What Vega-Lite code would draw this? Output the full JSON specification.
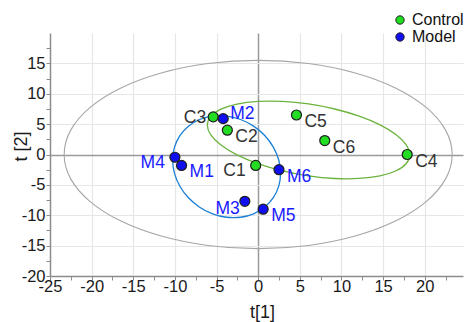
{
  "$schema": "https://vega.github.io/schema/vega-lite/v6.json",
  "width": 413,
  "height": 243,
  "autosize": {"type": "none"},
  "padding": {"left": 50, "top": 33, "right": 5, "bottom": 46},
  "background": "white",
  "config": {
    "view": {"stroke": null},
    "font": "Liberation Sans",
    "axis": {
      "domainColor": "#8c8c8c",
      "domainWidth": 1.5,
      "tickColor": "#8c8c8c",
      "tickSize": 4,
      "labelFlush": false,
      "labelFont": "Liberation Sans",
      "labelFontSize": 16.5,
      "labelColor": "#1a1a1a",
      "titleFont": "Liberation Sans",
      "titleFontSize": 18,
      "titleFontWeight": "normal",
      "titleColor": "#1a1a1a",
      "grid": true
    }
  },
  "datasets": {
    "scores": [
      {"label": "C1", "group": "Control", "x": -0.3, "y": -1.8},
      {"label": "C2", "group": "Control", "x": -3.7, "y": 4.0},
      {"label": "C3", "group": "Control", "x": -5.4, "y": 6.2},
      {"label": "C4", "group": "Control", "x": 17.9, "y": 0.0},
      {"label": "C5", "group": "Control", "x": 4.6, "y": 6.5},
      {"label": "C6", "group": "Control", "x": 8.0, "y": 2.3},
      {"label": "M1", "group": "Model", "x": -9.2, "y": -1.8},
      {"label": "M2", "group": "Model", "x": -4.2, "y": 5.9},
      {"label": "M3", "group": "Model", "x": -1.6, "y": -7.7},
      {"label": "M4", "group": "Model", "x": -10.0, "y": -0.45},
      {"label": "M5", "group": "Model", "x": 0.6, "y": -9.0},
      {"label": "M6", "group": "Model", "x": 2.5, "y": -2.5}
    ],
    "ellipses": [
      {"e": "T2", "i": 0, "x": 23.3, "y": 0},
      {"e": "T2", "i": 1, "x": 22.51, "y": 4.01},
      {"e": "T2", "i": 2, "x": 20.18, "y": 7.75},
      {"e": "T2", "i": 3, "x": 16.48, "y": 10.96},
      {"e": "T2", "i": 4, "x": 11.65, "y": 13.42},
      {"e": "T2", "i": 5, "x": 6.03, "y": 14.97},
      {"e": "T2", "i": 6, "x": 0, "y": 15.5},
      {"e": "T2", "i": 7, "x": -6.03, "y": 14.97},
      {"e": "T2", "i": 8, "x": -11.65, "y": 13.42},
      {"e": "T2", "i": 9, "x": -16.48, "y": 10.96},
      {"e": "T2", "i": 10, "x": -20.18, "y": 7.75},
      {"e": "T2", "i": 11, "x": -22.51, "y": 4.01},
      {"e": "T2", "i": 12, "x": -23.3, "y": 0},
      {"e": "T2", "i": 13, "x": -22.51, "y": -4.01},
      {"e": "T2", "i": 14, "x": -20.18, "y": -7.75},
      {"e": "T2", "i": 15, "x": -16.48, "y": -10.96},
      {"e": "T2", "i": 16, "x": -11.65, "y": -13.42},
      {"e": "T2", "i": 17, "x": -6.03, "y": -14.97},
      {"e": "T2", "i": 18, "x": 0, "y": -15.5},
      {"e": "T2", "i": 19, "x": 6.03, "y": -14.97},
      {"e": "T2", "i": 20, "x": 11.65, "y": -13.42},
      {"e": "T2", "i": 21, "x": 16.48, "y": -10.96},
      {"e": "T2", "i": 22, "x": 20.18, "y": -7.75},
      {"e": "T2", "i": 23, "x": 22.51, "y": -4.01},
      {"e": "Control", "i": 0, "x": 18.2, "y": -0.03},
      {"e": "Control", "i": 1, "x": 17.79, "y": 1.58},
      {"e": "Control", "i": 2, "x": 16.57, "y": 3.25},
      {"e": "Control", "i": 3, "x": 14.64, "y": 4.87},
      {"e": "Control", "i": 4, "x": 12.13, "y": 6.31},
      {"e": "Control", "i": 5, "x": 9.19, "y": 7.49},
      {"e": "Control", "i": 6, "x": 6.05, "y": 8.32},
      {"e": "Control", "i": 7, "x": 2.91, "y": 8.75},
      {"e": "Control", "i": 8, "x": -0.03, "y": 8.74},
      {"e": "Control", "i": 9, "x": -2.54, "y": 8.31},
      {"e": "Control", "i": 10, "x": -4.47, "y": 7.47},
      {"e": "Control", "i": 11, "x": -5.69, "y": 6.28},
      {"e": "Control", "i": 12, "x": -6.1, "y": 4.83},
      {"e": "Control", "i": 13, "x": -5.69, "y": 3.22},
      {"e": "Control", "i": 14, "x": -4.47, "y": 1.55},
      {"e": "Control", "i": 15, "x": -2.54, "y": -0.07},
      {"e": "Control", "i": 16, "x": -0.03, "y": -1.51},
      {"e": "Control", "i": 17, "x": 2.91, "y": -2.69},
      {"e": "Control", "i": 18, "x": 6.05, "y": -3.52},
      {"e": "Control", "i": 19, "x": 9.19, "y": -3.95},
      {"e": "Control", "i": 20, "x": 12.13, "y": -3.94},
      {"e": "Control", "i": 21, "x": 14.64, "y": -3.51},
      {"e": "Control", "i": 22, "x": 16.57, "y": -2.67},
      {"e": "Control", "i": 23, "x": 17.79, "y": -1.48},
      {"e": "Model", "i": 0, "x": 2.69, "y": -3.09},
      {"e": "Model", "i": 1, "x": 2.47, "y": -0.9},
      {"e": "Model", "i": 2, "x": 1.82, "y": 1.22},
      {"e": "Model", "i": 3, "x": 0.79, "y": 3.12},
      {"e": "Model", "i": 4, "x": -0.55, "y": 4.67},
      {"e": "Model", "i": 5, "x": -2.11, "y": 5.76},
      {"e": "Model", "i": 6, "x": -3.79, "y": 6.33},
      {"e": "Model", "i": 7, "x": -5.47, "y": 6.33},
      {"e": "Model", "i": 8, "x": -7.03, "y": 5.76},
      {"e": "Model", "i": 9, "x": -8.37, "y": 4.66},
      {"e": "Model", "i": 10, "x": -9.4, "y": 3.11},
      {"e": "Model", "i": 11, "x": -10.05, "y": 1.21},
      {"e": "Model", "i": 12, "x": -10.27, "y": -0.91},
      {"e": "Model", "i": 13, "x": -10.05, "y": -3.1},
      {"e": "Model", "i": 14, "x": -9.4, "y": -5.22},
      {"e": "Model", "i": 15, "x": -8.37, "y": -7.12},
      {"e": "Model", "i": 16, "x": -7.03, "y": -8.67},
      {"e": "Model", "i": 17, "x": -5.47, "y": -9.76},
      {"e": "Model", "i": 18, "x": -3.79, "y": -10.33},
      {"e": "Model", "i": 19, "x": -2.11, "y": -10.33},
      {"e": "Model", "i": 20, "x": -0.55, "y": -9.76},
      {"e": "Model", "i": 21, "x": 0.79, "y": -8.66},
      {"e": "Model", "i": 22, "x": 1.82, "y": -7.11},
      {"e": "Model", "i": 23, "x": 2.47, "y": -5.21}
    ]
  },
  "encoding": {
    "x": {
      "field": "x",
      "type": "quantitative",
      "scale": {"domain": [-25, 24.6], "nice": false, "zero": false},
      "axis": {
        "values": [-25, -22.5, -20, -17.5, -15, -12.5, -10, -7.5, -5, -2.5, 0, 2.5, 5, 7.5, 10, 12.5, 15, 17.5, 20, 22.5],
        "labelExpr": "datum.value % 5 === 0 ? '' + datum.value : ''",
        "labelPadding": -2,
        "title": "t[1]",
        "titleX": 212,
        "titleY": 36,
        "titleBaseline": "middle",
        "gridColor": {"condition": {"test": "datum.value === 0", "value": "#9a9a9a"}, "value": "#e6e6e6"},
        "gridWidth": {"condition": {"test": "datum.value === 0", "value": 1.5}, "value": 1.2},
        "gridOpacity": {"condition": {"test": "datum.value % 5 !== 0 || datum.value === -25", "value": 0}, "value": 1}
      }
    },
    "y": {
      "field": "y",
      "type": "quantitative",
      "scale": {"domain": [-20, 20], "nice": false, "zero": false},
      "axis": {
        "values": [-20, -17.5, -15, -12.5, -10, -7.5, -5, -2.5, 0, 2.5, 5, 7.5, 10, 12.5, 15, 17.5],
        "labelExpr": "datum.value % 5 === 0 ? '' + datum.value : ''",
        "labelPadding": 1,
        "title": "t [2]",
        "titleX": -29,
        "titleY": 113,
        "titleBaseline": "middle",
        "titleAlign": "center",
        "gridColor": {"condition": {"test": "datum.value === 0", "value": "#9a9a9a"}, "value": "#e6e6e6"},
        "gridWidth": {"condition": {"test": "datum.value === 0", "value": 1.5}, "value": 1.2},
        "gridOpacity": {"condition": {"test": "datum.value % 5 !== 0 || datum.value === -20", "value": 0}, "value": 1}
      }
    }
  },
  "layer": [
    {
      "data": {"name": "ellipses"},
      "transform": [{"filter": "datum.e === 'T2'"}],
      "mark": {"type": "line", "interpolate": "cardinal-closed", "color": "#a6a6a6", "strokeWidth": 1.1},
      "encoding": {"order": {"field": "i", "type": "quantitative"}}
    },
    {
      "data": {"name": "ellipses"},
      "transform": [{"filter": "datum.e === 'Control'"}],
      "mark": {"type": "line", "interpolate": "cardinal-closed", "color": "#6cb33e", "strokeWidth": 1.3},
      "encoding": {"order": {"field": "i", "type": "quantitative"}}
    },
    {
      "data": {"name": "ellipses"},
      "transform": [{"filter": "datum.e === 'Model'"}],
      "mark": {"type": "line", "interpolate": "cardinal-closed", "color": "#1a7fd4", "strokeWidth": 1.3},
      "encoding": {"order": {"field": "i", "type": "quantitative"}}
    },
    {
      "data": {"name": "scores"},
      "mark": {"type": "point", "filled": true, "size": 100, "stroke": "#1e1e1e", "strokeWidth": 1.2, "opacity": 1},
      "encoding": {
        "fill": {
          "field": "group",
          "type": "nominal",
          "scale": {"domain": ["Control", "Model"], "range": ["#22dd22", "#0f0ff0"]},
          "legend": {
            "orient": "none",
            "legendX": 342,
            "legendY": -21,
            "title": null,
            "padding": 0,
            "rowPadding": 1,
            "labelFontSize": 16,
            "labelFont": "Liberation Sans",
            "labelColor": "#111111",
            "labelOffset": 4,
            "symbolType": "circle",
            "symbolSize": 70,
            "symbolStrokeColor": "#222222",
            "symbolStrokeWidth": 1
          }
        }
      }
    },
    {
      "data": {"name": "scores"},
      "transform": [{"filter": {"field": "label", "oneOf": ["C2", "C4", "C5", "C6", "M1", "M5", "M6"]}}],
      "mark": {"type": "text", "align": "left", "baseline": "middle", "dx": 8, "dy": 7, "fontSize": 17.5},
      "encoding": {
        "text": {"field": "label"},
        "color": {"condition": {"test": "datum.group === 'Model'", "value": "#1a1aff"}, "value": "#333333"}
      }
    },
    {
      "data": {"name": "scores"},
      "transform": [{"filter": {"field": "label", "oneOf": ["M2"]}}],
      "mark": {"type": "text", "align": "left", "baseline": "middle", "dx": 7, "dy": -5, "fontSize": 17.5},
      "encoding": {
        "text": {"field": "label"},
        "color": {"condition": {"test": "datum.group === 'Model'", "value": "#1a1aff"}, "value": "#333333"}
      }
    },
    {
      "data": {"name": "scores"},
      "transform": [{"filter": {"field": "label", "oneOf": ["C3"]}}],
      "mark": {"type": "text", "align": "right", "baseline": "middle", "dx": -7, "dy": 1, "fontSize": 17.5},
      "encoding": {
        "text": {"field": "label"},
        "color": {"condition": {"test": "datum.group === 'Model'", "value": "#1a1aff"}, "value": "#333333"}
      }
    },
    {
      "data": {"name": "scores"},
      "transform": [{"filter": {"field": "label", "oneOf": ["C1", "M4"]}}],
      "mark": {"type": "text", "align": "right", "baseline": "middle", "dx": -10, "dy": 5.5, "fontSize": 17.5},
      "encoding": {
        "text": {"field": "label"},
        "color": {"condition": {"test": "datum.group === 'Model'", "value": "#1a1aff"}, "value": "#333333"}
      }
    },
    {
      "data": {"name": "scores"},
      "transform": [{"filter": {"field": "label", "oneOf": ["M3"]}}],
      "mark": {"type": "text", "align": "right", "baseline": "middle", "dx": -5, "dy": 8, "fontSize": 17.5},
      "encoding": {
        "text": {"field": "label"},
        "color": {"condition": {"test": "datum.group === 'Model'", "value": "#1a1aff"}, "value": "#333333"}
      }
    },
    {
      "data": {"values": [{}]},
      "mark": {"type": "point", "shape": "M-1,-0.6L1,0L-1,0.6Z", "filled": true, "color": "#8c8c8c", "size": 169, "opacity": 1},
      "encoding": {
        "x": {"datum": 24.2, "type": "quantitative"},
        "y": {"datum": -20, "type": "quantitative"}
      }
    },
    {
      "data": {"values": [{}]},
      "mark": {"type": "point", "shape": "M-0.6,1L0,-1L0.6,1Z", "filled": true, "color": "#8c8c8c", "size": 169, "opacity": 1},
      "encoding": {
        "x": {"datum": -25, "type": "quantitative"},
        "y": {"datum": 19.2, "type": "quantitative"}
      }
    }
  ]
}
